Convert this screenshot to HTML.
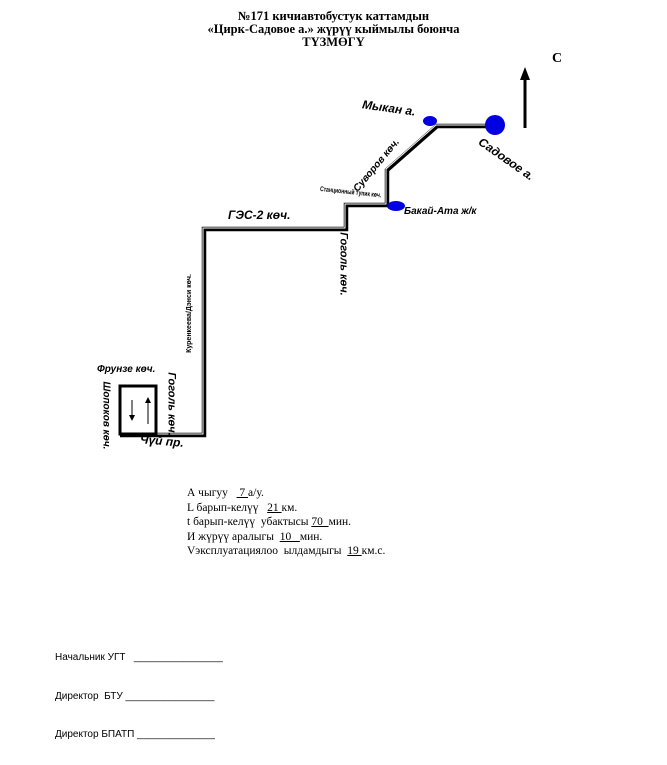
<!DOCTYPE html>
<html><head><meta charset="utf-8"><style>
body{margin:0;width:667px;height:765px;background:#fff;position:relative;overflow:hidden;font-family:"Liberation Sans",sans-serif}
.t{position:absolute;white-space:nowrap}
.ser{font-family:"Liberation Serif",serif}
</style></head><body>
<div class="t ser" style="left:0;width:667px;text-align:center;top:10px;font-size:12.5px;font-weight:bold;line-height:13px">№171 кичиавтобустук каттамдын<br>«Цирк-Садовое а.» жүрүү кыймылы боюнча<br>ТҮЗМӨГҮ</div>
<div class="t ser" style="left:552px;top:51px;font-size:14px;font-weight:bold">С</div>
<svg width="667" height="765" style="position:absolute;left:0;top:0">
<line x1="525" y1="128" x2="525" y2="80" stroke="#000" stroke-width="3"/>
<polygon points="520,80 530,80 525,67" fill="#000"/>
<polyline points="120,435 204,435 204,229 346,229 346,205 387,205 387,170 437,126 495,126" fill="none" stroke="#000" stroke-width="4.5"/>
<polyline points="120,435 204,435 204,229 346,229 346,205 387,205 387,170 437,126 495,126" fill="none" stroke="#fff" stroke-width="1" transform="translate(-1,-1)"/>
<rect x="120" y="386" width="36" height="48" fill="none" stroke="#000" stroke-width="3"/>
<line x1="132" y1="400" x2="132" y2="418" stroke="#000"/><polygon points="129,415 135,415 132,421" fill="#000"/>
<line x1="148" y1="400" x2="148" y2="424" stroke="#000"/><polygon points="145,403 151,403 148,397" fill="#000"/>
<circle cx="495" cy="125" r="10" fill="#0000e0"/>
<ellipse cx="430" cy="121" rx="7" ry="5" fill="#0000e0"/>
<ellipse cx="396" cy="206" rx="9" ry="5" fill="#0000e0"/>
</svg>
<div class="t" style="left:362px;top:101px;font-size:12px;font-weight:bold;font-style:italic;transform:rotate(8deg)">Мыкан а.</div>
<div class="t" style="left:474px;top:152px;font-size:12px;font-weight:bold;font-style:italic;transform:rotate(35deg)">Садовое а.</div>
<div class="t" style="left:344px;top:160px;font-size:10px;font-weight:bold;font-style:italic;transform:rotate(-50deg)">Суворов көч.</div>
<div class="t" style="left:320px;top:186px;font-size:7px;font-weight:bold;transform:rotate(6deg) scaleX(0.72);transform-origin:left center">Станционный тупик көч.</div>
<div class="t" style="left:404px;top:206px;font-size:10px;font-weight:bold;font-style:italic">Бакай-Ата ж/к</div>
<div class="t" style="left:228px;top:208px;font-size:12px;font-weight:bold;font-style:italic">ГЭС-2 көч.</div>
<div class="t" style="left:312px;top:258px;font-size:11px;font-weight:bold;font-style:italic;transform:rotate(90deg)">Гоголь көч.</div>
<div class="t" style="left:150px;top:310px;font-size:7px;font-weight:bold;transform:rotate(-90deg)">Куренкеева/Дэнси көч.</div>
<div class="t" style="left:97px;top:364px;font-size:10px;font-weight:bold;font-style:italic">Фрунзе көч.</div>
<div class="t" style="left:140px;top:398px;font-size:11px;font-weight:bold;font-style:italic;transform:rotate(90deg)">Гоголь көч.</div>
<div class="t" style="left:72px;top:410px;font-size:10px;font-weight:bold;font-style:italic;transform:rotate(90deg)">Шопоков көч.</div>
<div class="t" style="left:140px;top:434px;font-size:12px;font-weight:bold;font-style:italic;transform:rotate(5deg)">Чүй пр.</div>
<div class="t ser" style="left:187px;top:486px;font-size:11.5px;line-height:14.5px">А чыгуу &nbsp;&nbsp;<u>&nbsp;7 </u>а/у.<br>L барып-келүү &nbsp;&nbsp;<u>21 </u>км.<br>t барып-келүү &nbsp;убактысы <u>70 &nbsp;</u>мин.<br>И жүрүү аралыгы &nbsp;<u>10 &nbsp;&nbsp;</u>мин.<br>Vэксплуатациялоо &nbsp;ылдамдыгы &nbsp;<u>19 </u>км.с.</div>
<div class="t" style="left:55px;top:652px;font-size:10px">Начальник УГТ &nbsp;&nbsp;________________</div>
<div class="t" style="left:55px;top:691px;font-size:10px">Директор &nbsp;БТУ ________________</div>
<div class="t" style="left:55px;top:729px;font-size:10px">Директор БПАТП ______________</div>
</body></html>
